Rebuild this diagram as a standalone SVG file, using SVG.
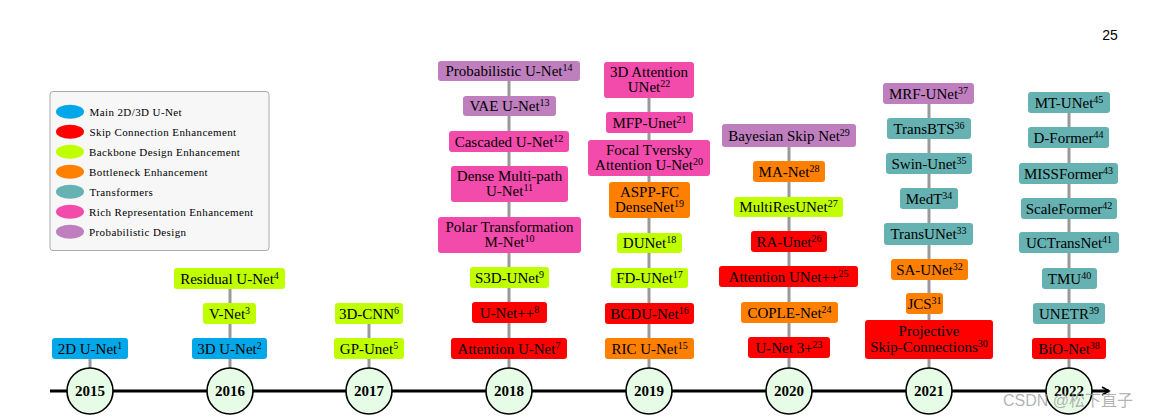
<svg xmlns="http://www.w3.org/2000/svg" width="1155" height="418" viewBox="0 0 1155 418">
<style>
.b{stroke:none}
.blue{fill:#00a8ea}.red{fill:#ff0000}.lime{fill:#bfff00}.orange{fill:#ff7f00}.teal{fill:#66b2b2}.pink{fill:#f24bab}.purple{fill:#bf7fbf}
text{font-family:"Liberation Serif","DejaVu Serif",serif;fill:#000}
.t{font-size:15px;text-anchor:middle}
.s{font-size:10px}
.yr{font-size:15px;font-weight:bold;text-anchor:middle}
.lg{font-size:11px;letter-spacing:0.4px}
.conn{stroke:#999;stroke-width:3;fill:none}
.yc{fill:#e6fce6;stroke:#000;stroke-width:1.6}
</style>
<defs>
<marker id="ah" markerWidth="10" markerHeight="10" refX="8" refY="5" orient="auto" markerUnits="userSpaceOnUse">
<path d="M1,1 L8,5 L1,9" fill="none" stroke="#000" stroke-width="1.8"/>
</marker>
</defs>
<rect width="1155" height="418" fill="#fff"/>
<text x="1110" y="40" style="font-family:'Liberation Sans',Arial,sans-serif;font-size:14px;text-anchor:middle">25</text>

<g id="legend">
<rect x="50" y="91.5" width="219" height="159" rx="3" fill="#f7f7f7" stroke="#aaa" stroke-width="1"/>
<ellipse cx="70" cy="111.7" rx="14" ry="7" class="blue"/><text class="lg" x="89.5" y="115.5">Main 2D/3D U-Net</text>
<ellipse cx="70" cy="131.7" rx="14" ry="7" class="red"/><text class="lg" x="89.5" y="135.5">Skip Connection Enhancement</text>
<ellipse cx="70" cy="151.7" rx="14" ry="7" class="lime"/><text class="lg" x="89" y="155.5">Backbone Design Enhancement</text>
<ellipse cx="70" cy="171.7" rx="14" ry="7" class="orange"/><text class="lg" x="89" y="175.5">Bottleneck Enhancement</text>
<ellipse cx="70" cy="191.7" rx="14" ry="7" class="teal"/><text class="lg" x="89.5" y="195.5">Transformers</text>
<ellipse cx="70" cy="211.7" rx="14" ry="7" class="pink"/><text class="lg" x="89" y="215.5">Rich Representation Enhancement</text>
<ellipse cx="70" cy="231.7" rx="14" ry="7" class="purple"/><text class="lg" x="89" y="235.5">Probabilistic Design</text>
</g>

<g id="connectors">
<line x1="50" y1="391" x2="1109" y2="391" stroke="#000" stroke-width="3" marker-end="url(#ah)"/>
<line class="conn" x1="90" y1="368" x2="90" y2="348"/>
<line class="conn" x1="230" y1="368" x2="230" y2="278"/>
<line class="conn" x1="369" y1="368" x2="369" y2="313"/>
<line class="conn" x1="509" y1="368" x2="509" y2="71"/>
<line class="conn" x1="649" y1="368" x2="649" y2="80"/>
<line class="conn" x1="789" y1="368" x2="789" y2="135"/>
<line class="conn" x1="929" y1="368" x2="929" y2="93"/>
<line class="conn" x1="1069" y1="368" x2="1069" y2="102"/>
</g>

<g id="y2015"><circle class="yc" cx="90" cy="391" r="23"/><text class="yr" x="90" y="396">2015</text></g>
<g id="y2016"><circle class="yc" cx="230" cy="391" r="23"/><text class="yr" x="230" y="396">2016</text></g>
<g id="y2017"><circle class="yc" cx="369" cy="391" r="23"/><text class="yr" x="369" y="396">2017</text></g>
<g id="y2018"><circle class="yc" cx="509" cy="391" r="23"/><text class="yr" x="509" y="396">2018</text></g>
<g id="y2019"><circle class="yc" cx="649" cy="391" r="23"/><text class="yr" x="649" y="396">2019</text></g>
<g id="y2020"><circle class="yc" cx="789" cy="391" r="23"/><text class="yr" x="789" y="396">2020</text></g>
<g id="y2021"><circle class="yc" cx="929" cy="391" r="23"/><text class="yr" x="929" y="396">2021</text></g>
<g id="y2022"><circle class="yc" cx="1069" cy="391" r="23"/><text class="yr" x="1069" y="396">2022</text></g>

<!-- 2015 -->
<g id="n1"><rect class="blue" x="52" y="338" width="76" height="21" rx="3"/><text class="t" x="90" y="353.5">2D U-Net<tspan class="s" dy="-5">1</tspan></text></g>
<!-- 2016 -->
<g id="n2"><rect class="blue" x="192" y="338" width="75" height="21" rx="3"/><text class="t" x="229.5" y="353.5">3D U-Net<tspan class="s" dy="-5">2</tspan></text></g>
<g id="n3"><rect class="lime" x="203" y="303" width="53" height="21" rx="3"/><text class="t" x="229.5" y="318.5">V-Net<tspan class="s" dy="-5">3</tspan></text></g>
<g id="n4"><rect class="lime" x="174" y="268" width="111" height="21" rx="3"/><text class="t" x="229.5" y="283.5">Residual U-Net<tspan class="s" dy="-5">4</tspan></text></g>
<!-- 2017 -->
<g id="n5"><rect class="lime" x="334" y="338" width="70" height="21" rx="3"/><text class="t" x="369" y="353.5">GP-Unet<tspan class="s" dy="-5">5</tspan></text></g>
<g id="n6"><rect class="lime" x="335" y="303" width="68" height="21" rx="3"/><text class="t" x="369" y="318.5">3D-CNN<tspan class="s" dy="-5">6</tspan></text></g>
<!-- 2018 -->
<g id="n7"><rect class="red" x="451" y="338" width="116" height="21" rx="3"/><text class="t" x="509" y="353.5">Attention U-Net<tspan class="s" dy="-5">7</tspan></text></g>
<g id="n8"><rect class="red" x="472" y="302" width="75" height="21" rx="3"/><text class="t" x="509.5" y="317.5">U-Net++<tspan class="s" dy="-5">8</tspan></text></g>
<g id="n9"><rect class="lime" x="470" y="267" width="79" height="21" rx="3"/><text class="t" x="509.5" y="282.5">S3D-UNet<tspan class="s" dy="-5">9</tspan></text></g>
<g id="n10"><rect class="pink" x="438" y="217" width="143" height="36" rx="3"/><text class="t" x="509.5" y="231.5">Polar Transformation</text><text class="t" x="509.5" y="247">M-Net<tspan class="s" dy="-5">10</tspan></text></g>
<g id="n11"><rect class="pink" x="451" y="166" width="117" height="36" rx="3"/><text class="t" x="509.5" y="180.5">Dense Multi-path</text><text class="t" x="509.5" y="196">U-Net<tspan class="s" dy="-5">11</tspan></text></g>
<g id="n12"><rect class="pink" x="449" y="131" width="120" height="21" rx="3"/><text class="t" x="509" y="146.5">Cascaded U-Net<tspan class="s" dy="-5">12</tspan></text></g>
<g id="n13"><rect class="purple" x="463" y="96" width="93" height="20" rx="3"/><text class="t" x="509.5" y="111">VAE U-Net<tspan class="s" dy="-5">13</tspan></text></g>
<g id="n14"><rect class="purple" x="438" y="61" width="142" height="20" rx="3"/><text class="t" x="509" y="76">Probabilistic U-Net<tspan class="s" dy="-5">14</tspan></text></g>
<!-- 2019 -->
<g id="n15"><rect class="orange" x="605" y="338" width="89" height="21" rx="3"/><text class="t" x="649.5" y="353.5">RIC U-Net<tspan class="s" dy="-5">15</tspan></text></g>
<g id="n16"><rect class="red" x="605" y="303" width="89" height="21" rx="3"/><text class="t" x="649.5" y="318.5">BCDU-Net<tspan class="s" dy="-5">16</tspan></text></g>
<g id="n17"><rect class="lime" x="611" y="268" width="77" height="20" rx="3"/><text class="t" x="649.5" y="283">FD-UNet<tspan class="s" dy="-5">17</tspan></text></g>
<g id="n18"><rect class="lime" x="617" y="233" width="65" height="20" rx="3"/><text class="t" x="649.5" y="248">DUNet<tspan class="s" dy="-5">18</tspan></text></g>
<g id="n19"><rect class="orange" x="609" y="182" width="81" height="36" rx="3"/><text class="t" x="649.5" y="196.5">ASPP-FC</text><text class="t" x="649.5" y="212">DenseNet<tspan class="s" dy="-5">19</tspan></text></g>
<g id="n20"><rect class="pink" x="588" y="140" width="122" height="36" rx="3"/><text class="t" x="649" y="154.5">Focal Tversky</text><text class="t" x="649" y="170">Attention U-Net<tspan class="s" dy="-5">20</tspan></text></g>
<g id="n21"><rect class="pink" x="606" y="112" width="87" height="21" rx="3"/><text class="t" x="649.5" y="127.5">MFP-Unet<tspan class="s" dy="-5">21</tspan></text></g>
<g id="n22"><rect class="pink" x="604" y="62" width="90" height="36" rx="3"/><text class="t" x="649" y="76.5">3D Attention</text><text class="t" x="649" y="92">UNet<tspan class="s" dy="-5">22</tspan></text></g>
<!-- 2020 -->
<g id="n23"><rect class="red" x="748" y="337" width="82" height="21" rx="3"/><text class="t" x="789" y="352.5">U-Net 3+<tspan class="s" dy="-5">23</tspan></text></g>
<g id="n24"><rect class="orange" x="741" y="302" width="97" height="21" rx="3"/><text class="t" x="789.5" y="317.5">COPLE-Net<tspan class="s" dy="-5">24</tspan></text></g>
<g id="n25"><rect class="red" x="719" y="266" width="139" height="21" rx="3"/><text class="t" x="788.5" y="281.5">Attention UNet++<tspan class="s" dy="-5">25</tspan></text></g>
<g id="n26"><rect class="red" x="751" y="231" width="76" height="21" rx="3"/><text class="t" x="789" y="246.5">RA-Unet<tspan class="s" dy="-5">26</tspan></text></g>
<g id="n27"><rect class="lime" x="734" y="197" width="109" height="20" rx="3"/><text class="t" x="788.5" y="212">MultiResUNet<tspan class="s" dy="-5">27</tspan></text></g>
<g id="n28"><rect class="orange" x="753" y="161" width="72" height="21" rx="3"/><text class="t" x="789" y="176.5">MA-Net<tspan class="s" dy="-5">28</tspan></text></g>
<g id="n29"><rect class="purple" x="722" y="124" width="134" height="23" rx="3"/><text class="t" x="789" y="140.5">Bayesian Skip Net<tspan class="s" dy="-5">29</tspan></text></g>
<!-- 2021 -->
<g id="n30"><rect class="red" x="865" y="320" width="128" height="39" rx="3"/><text class="t" x="929" y="335.5">Projective</text><text class="t" x="929" y="352">Skip-Connections<tspan class="s" dy="-5">30</tspan></text></g>
<g id="n31"><rect class="orange" x="906" y="293" width="37" height="21" rx="3"/><text class="t" x="924.5" y="308.5">JCS<tspan class="s" dy="-5">31</tspan></text></g>
<g id="n32"><rect class="orange" x="891" y="259" width="77" height="21" rx="3"/><text class="t" x="929.5" y="274.5">SA-UNet<tspan class="s" dy="-5">32</tspan></text></g>
<g id="n33"><rect class="teal" x="884" y="223" width="89" height="22" rx="3"/><text class="t" x="928.5" y="239">TransUNet<tspan class="s" dy="-5">33</tspan></text></g>
<g id="n34"><rect class="teal" x="900" y="188" width="58" height="21" rx="3"/><text class="t" x="929" y="203.5">MedT<tspan class="s" dy="-5">34</tspan></text></g>
<g id="n35"><rect class="teal" x="886" y="153" width="86" height="21" rx="3"/><text class="t" x="929" y="168.5">Swin-Unet<tspan class="s" dy="-5">35</tspan></text></g>
<g id="n36"><rect class="teal" x="887" y="118" width="84" height="21" rx="3"/><text class="t" x="929" y="133.5">TransBTS<tspan class="s" dy="-5">36</tspan></text></g>
<g id="n37"><rect class="purple" x="883" y="83" width="91" height="21" rx="3"/><text class="t" x="928.5" y="98.5">MRF-UNet<tspan class="s" dy="-5">37</tspan></text></g>
<!-- 2022 -->
<g id="n38"><rect class="red" x="1032" y="338" width="74" height="21" rx="3"/><text class="t" x="1069" y="353.5">BiO-Net<tspan class="s" dy="-5">38</tspan></text></g>
<g id="n39"><rect class="teal" x="1033" y="303" width="72" height="21" rx="3"/><text class="t" x="1069" y="318.5">UNETR<tspan class="s" dy="-5">39</tspan></text></g>
<g id="n40"><rect class="teal" x="1042" y="268" width="55" height="21" rx="3"/><text class="t" x="1069.5" y="283.5">TMU<tspan class="s" dy="-5">40</tspan></text></g>
<g id="n41"><rect class="teal" x="1019" y="232" width="100" height="21" rx="3"/><text class="t" x="1069" y="247.5">UCTransNet<tspan class="s" dy="-5">41</tspan></text></g>
<g id="n42"><rect class="teal" x="1021" y="198" width="96" height="21" rx="3"/><text class="t" x="1069" y="213.5">ScaleFormer<tspan class="s" dy="-5">42</tspan></text></g>
<g id="n43"><rect class="teal" x="1019" y="163" width="99" height="21" rx="3"/><text class="t" x="1068.5" y="178.5">MISSFormer<tspan class="s" dy="-5">43</tspan></text></g>
<g id="n44"><rect class="teal" x="1028" y="127" width="81" height="21" rx="3"/><text class="t" x="1068.5" y="142.5">D-Former<tspan class="s" dy="-5">44</tspan></text></g>
<g id="n45"><rect class="teal" x="1028" y="92" width="82" height="21" rx="3"/><text class="t" x="1069" y="107.5">MT-UNet<tspan class="s" dy="-5">45</tspan></text></g>

<text x="1003" y="406" style="font-family:'Liberation Sans','Noto Sans CJK SC',sans-serif;font-size:16px;fill:#9a9a9a;fill-opacity:0.75">CSDN @松下直子</text>
</svg>
